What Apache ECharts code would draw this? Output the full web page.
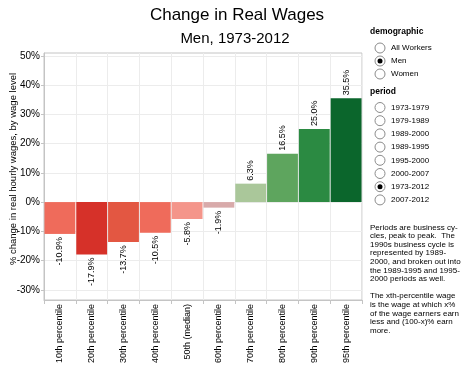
<!DOCTYPE html>
<html>
<head>
<meta charset="utf-8">
<script src="https://cdn.jsdelivr.net/npm/echarts@6/dist/echarts.min.js"></script>
<style>
html,body{margin:0;padding:0;background:#fff;}
#chart{width:465px;height:370px;}
</style>
</head>
<body>
<div id="chart"></div>
<script>
var categories = ['10th percentile','20th percentile','30th percentile','40th percentile','50th (median)','60th percentile','70th percentile','80th percentile','90th percentile','95th percentile'];
var values = [-10.9, -17.9, -13.7, -10.5, -5.8, -1.9, 6.3, 16.5, 25.0, 35.5];
var yTicks = [-30, -20, -10, 0, 10, 20, 30, 40, 50];
var yTitle = '% change in real hourly wages, by wage level';
var demographics = ['All Workers', 'Men', 'Women'];
var selectedDemographic = 'Men';
var periods = ['1973-1979','1979-1989','1989-2000','1989-1995','1995-2000','2000-2007','1973-2012','2007-2012'];
var selectedPeriod = '1973-2012';
var noteText = 'Periods are business cy-\ncles, peak to peak.  The\n1990s business cycle is\nrepresented by 1989-\n2000, and broken out into\nthe 1989-1995 and 1995-\n2000 periods as well.\n\nThe xth-percentile wage\nis the wage at which x%\nof the wage earners earn\nless and (100-x)% earn\nmore.';

var barColors = ['#ef6b5b','#d63129','#e35742','#ef6b5b','#f4958a','#d8aaaa','#aac79a','#5ea55e','#2b8a42','#0b662c'];
var FONT = '"Liberation Sans", Arial, sans-serif';

var chart = echarts.init(document.getElementById('chart'), null, {renderer:'canvas'});

var seriesData = values.map(function (v, i) {
  var pos = v >= 0;
  return {
    value: v,
    itemStyle: {color: barColors[i]},
    label: {
      position: pos ? 'top' : 'bottom',
      align: pos ? 'left' : 'right',
      verticalAlign: 'middle'
    }
  };
});

var graphics = [];
function radioGroup(title, items, selected, titleY, firstY, step) {
  graphics.push({type:'text', left:370, top:titleY - 5, style:{text:title, font:'bold 8.5px ' + FONT, fill:'#000'}});
  items.forEach(function (it, i) {
    var cy = firstY + i * step;
    graphics.push({type:'circle', shape:{cx:380, cy:cy, r:5}, style:{fill:'#fff', stroke:'#8a8a8a', lineWidth:1}});
    if (it === selected) {
      graphics.push({type:'circle', shape:{cx:380, cy:cy, r:2.5}, style:{fill:'#000'}});
    }
    graphics.push({type:'text', x:391, y:cy, style:{text:it, font:'8px ' + FONT, fill:'#000', textVerticalAlign:'middle'}});
  });
}
radioGroup('demographic', demographics, selectedDemographic, 32, 48, 13);
radioGroup('period', periods, selectedPeriod, 92, 107.5, 13.2);
graphics.push({type:'text', x:370, y:223, style:{text:noteText, font:'8px ' + FONT, fill:'#000', lineHeight:8.6}});
graphics.push({type:'text', x:13, y:169, rotation:Math.PI/2, style:{text:yTitle, font:'9.5px ' + FONT, fill:'#000', textAlign:'center', textVerticalAlign:'middle'}});

chart.setOption({
  animation: false,
  textStyle: {fontFamily: FONT},
  title: [
    {text:'Change in Real Wages', left:232, top:2, textAlign:'center', textStyle:{fontSize:17, fontWeight:'normal', color:'#000', fontFamily:FONT}},
    {text:'Men, 1973-2012', left:230, top:26, textAlign:'center', textStyle:{fontSize:15, fontWeight:'normal', color:'#000', fontFamily:FONT}}
  ],
  grid: {left:44, right:103, top:53, bottom:70, show:true, borderColor:'#c4c4c4', borderWidth:1, containLabel:false, outerBoundsMode:'none'},
  xAxis: {
    type:'category',
    data: categories,
    axisLine:{show:true, onZero:false, lineStyle:{color:'#c4c4c4'}},
    axisTick:{show:true, length:4, lineStyle:{color:'#c4c4c4'}},
    splitLine:{show:true, lineStyle:{color:'#ececec'}},
    axisLabel:{rotate:90, interval:0, fontSize:9, color:'#000', margin:4, fontFamily:FONT}
  },
  yAxis: {
    type:'value',
    min:-33.5, max:51,
    axisLine:{show:true, lineStyle:{color:'#c4c4c4'}},
    axisTick:{show:true, length:3, customValues:yTicks, lineStyle:{color:'#c4c4c4'}},
    axisLabel:{customValues:yTicks, formatter:function(v){return v + '%';}, fontSize:10, color:'#000', margin:4, fontFamily:FONT},
    splitLine:{show:true, lineStyle:{color:'#ececec'}}
  },
  series: [{
    type:'bar',
    data: seriesData,
    barCategoryGap:'3%',
    label:{show:true, rotate:90, distance:3, fontSize:9, color:'#000', fontFamily:FONT,
      formatter:function(p){return p.value.toFixed(1) + '%';}}
  }],
  graphic: graphics
});
</script>
</body>
</html>
